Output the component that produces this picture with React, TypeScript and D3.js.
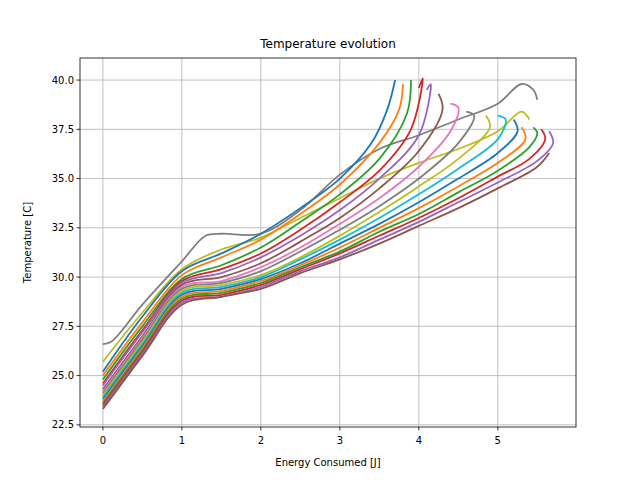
import React from 'react';
import * as d3 from 'd3';

// --- DATA: hand-read representative runs, [energy J, temperature C] ---
const runs: [number, number][][] = [
  [[0,25.2],[0.5,28],[1,30.3],[1.5,31.2],[2,32.2],[2.5,33.5],[3,35],[3.4,36.8],[3.6,38.5],[3.7,40]],
  [[0,25],[0.5,27.7],[1,30.1],[1.5,31],[2,31.9],[2.5,33.2],[3,34.7],[3.5,36.8],[3.75,38.5],[3.8,39.8]],
  [[0,24.8],[0.5,27.5],[1,29.9],[1.5,30.6],[2,31.5],[2.5,32.8],[3,34.2],[3.5,36],[3.85,38.3],[3.9,40]],
  [[0,24.6],[0.5,27.3],[1,29.8],[1.5,30.4],[2,31.2],[2.5,32.4],[3,33.8],[3.5,35.4],[3.9,37.5],[4.05,40.1],[4,39.6]],
  [[0,24.5],[0.5,27.2],[1,29.7],[1.5,30.2],[2,31],[2.5,32.1],[3,33.4],[3.5,35],[4,37.2],[4.15,39.8],[4.1,39.5]],
  [[0,24.3],[0.5,27],[1,29.6],[1.5,30],[2,30.7],[2.5,31.8],[3,33],[3.5,34.5],[4,36.4],[4.3,38.5],[4.25,39.3]],
  [[0,24.2],[0.5,26.9],[1,29.5],[1.5,29.8],[2,30.5],[2.5,31.5],[3,32.7],[3.5,34],[4,35.6],[4.4,37.4],[4.5,38.6],[4.4,38.8]],
  [[0,24.1],[0.5,26.8],[1,29.4],[1.5,29.7],[2,30.3],[2.5,31.3],[3,32.4],[3.5,33.6],[4,35],[4.5,36.8],[4.7,38.2],[4.6,38.4]],
  [[0,24],[0.5,26.7],[1,29.3],[1.5,29.6],[2,30.1],[2.5,31],[3,32.1],[3.5,33.3],[4,34.6],[4.5,36],[4.9,37.6],[4.85,38.2]],
  [[0,23.9],[0.5,26.6],[1,29.2],[1.5,29.5],[2,30],[2.5,30.9],[3,31.9],[3.5,33],[4,34.2],[4.5,35.5],[5,37],[5.1,38],[5,38.2]],
  [[0,23.8],[0.5,26.5],[1,29.1],[1.5,29.4],[2,29.9],[2.5,30.7],[3,31.7],[3.5,32.7],[4,33.8],[4.5,35],[5,36.3],[5.25,37.4],[5.2,38]],
  [[0,23.7],[0.5,26.4],[1,29],[1.5,29.3],[2,29.8],[2.5,30.6],[3,31.5],[3.5,32.5],[4,33.5],[4.5,34.6],[5,35.8],[5.35,37],[5.3,37.6]],
  [[0,23.6],[0.5,26.3],[1,28.9],[1.5,29.2],[2,29.7],[2.5,30.5],[3,31.3],[3.5,32.3],[4,33.2],[4.5,34.3],[5,35.4],[5.4,36.6],[5.5,37.3],[5.45,37.6]],
  [[0,23.5],[0.5,26.2],[1,28.8],[1.5,29.1],[2,29.6],[2.5,30.4],[3,31.2],[3.5,32.1],[4,33],[4.5,34],[5,35.1],[5.4,36],[5.6,37],[5.55,37.5]],
  [[0,23.4],[0.5,26.1],[1,28.7],[1.5,29],[2,29.5],[2.5,30.3],[3,31],[3.5,31.9],[4,32.8],[4.5,33.8],[5,34.8],[5.5,35.9],[5.7,36.8],[5.65,37.4]],
  [[0,23.3],[0.5,26],[1,28.6],[1.5,29],[2,29.4],[2.5,30.2],[3,30.9],[3.5,31.7],[4,32.6],[4.5,33.5],[5,34.5],[5.5,35.6],[5.65,36.3]],
];
const olive: [number, number][] = [[0,25.7],[0.5,28.2],[1,30.4],[1.5,31.4],[2,32],[2.5,33],[3,34],[3.5,35],[4,35.8],[4.5,36.5],[5,37.4],[5.3,38.4],[5.4,38]];
const outlier: [number, number][] = [[0,26.6],[0.1,26.7],[0.5,28.6],[1,30.8],[1.3,32.1],[1.5,32.2],[2,32.2],[2.5,33.4],[3,35.2],[3.5,36.5],[4,37.2],[4.5,38],[5,38.8],[5.3,39.8],[5.45,39.5],[5.5,39]];
const xTicks = [0, 1, 2, 3, 4, 5];
const yTicks = [22.5, 25, 27.5, 30, 32.5, 35, 37.5, 40];
const palette = ['#1f77b4','#ff7f0e','#2ca02c','#d62728','#9467bd','#8c564b','#e377c2','#7f7f7f','#bcbd22','#17becf'];

const W = 640, H = 480;
const m = { left: 80, right: 64, top: 58, bottom: 53 };

export default function App() {
  const x = d3.scaleLinear().domain([-0.29, 5.99]).range([m.left, W - m.right]);
  const y = d3.scaleLinear().domain([22.39, 41.12]).range([H - m.bottom, m.top]);
  const line = d3.line<[number, number]>().x(d => x(d[0])).y(d => y(d[1])).curve(d3.curveCatmullRom);
  const font = 'DejaVu Sans, sans-serif';
  return (
    <svg width={W} height={H} style={{ position: 'absolute', left: 0, top: 0, background: '#fff' }} fontFamily={font}>
      <defs>
        <clipPath id="plot"><rect x={m.left} y={m.top} width={W - m.left - m.right} height={H - m.top - m.bottom} /></clipPath>
      </defs>
      {xTicks.map(t => <line key={'gx' + t} x1={x(t)} x2={x(t)} y1={m.top} y2={H - m.bottom} stroke="#b0b0b0" strokeWidth={0.8} />)}
      {yTicks.map(t => <line key={'gy' + t} x1={m.left} x2={W - m.right} y1={y(t)} y2={y(t)} stroke="#b0b0b0" strokeWidth={0.8} />)}
      <g clipPath="url(#plot)" fill="none" strokeWidth={1.8}>
        <path d={line(outlier)!} stroke="#7f7f7f" />
        <path d={line(olive)!} stroke="#bcbd22" />
        {runs.map((r, i) => <path key={i} d={line(r)!} stroke={palette[i % 10]} />)}
      </g>
      <rect x={m.left} y={m.top} width={W - m.left - m.right} height={H - m.top - m.bottom} fill="none" stroke="#000" strokeWidth={0.8} />
      {xTicks.map(t => (
        <g key={'tx' + t}>
          <line x1={x(t)} x2={x(t)} y1={H - m.bottom} y2={H - m.bottom + 3.5} stroke="#000" strokeWidth={0.8} />
          <text x={x(t)} y={H - m.bottom + 17} textAnchor="middle" fontSize={10}>{t}</text>
        </g>
      ))}
      {yTicks.map(t => (
        <g key={'ty' + t}>
          <line x1={m.left - 3.5} x2={m.left} y1={y(t)} y2={y(t)} stroke="#000" strokeWidth={0.8} />
          <text x={m.left - 6} y={y(t) + 3.5} textAnchor="end" fontSize={10}>{t.toFixed(1)}</text>
        </g>
      ))}
      <text x={(m.left + W - m.right) / 2} y={48} textAnchor="middle" fontSize={12}>Temperature evolution</text>
      <text x={(m.left + W - m.right) / 2} y={466} textAnchor="middle" fontSize={10}>Energy Consumed [J]</text>
      <text transform={`translate(31,${(m.top + H - m.bottom) / 2}) rotate(-90)`} textAnchor="middle" fontSize={10}>Temperature [C]</text>
    </svg>
  );
}
